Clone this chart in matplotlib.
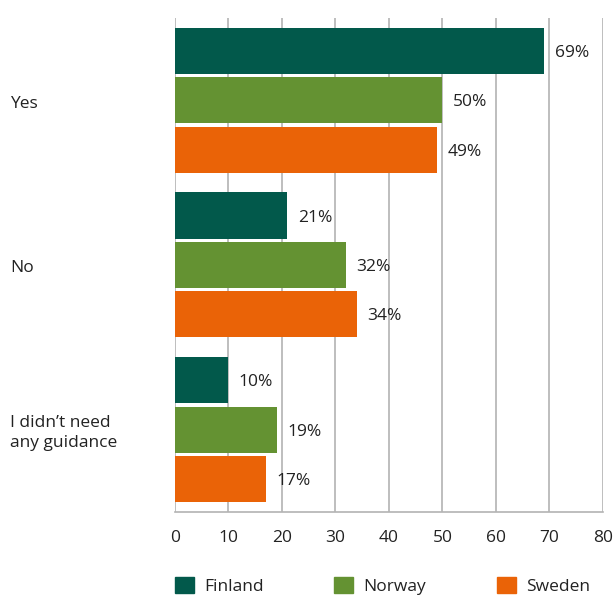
import matplotlib.pyplot as plt
from matplotlib.patches import Patch
import numpy as np

plt.rcParams['font.family'] = ['Open Sans', 'DejaVu Sans']

# answers and share of respondents (%) per country
categories = ['Yes', 'No', 'I didn\u2019t need\nany guidance']
countries = ['Finland', 'Norway', 'Sweden']
finland = [69, 21, 10]
norway = [50, 32, 19]
sweden = [49, 34, 17]
colors = ['#02594B', '#649232', '#EA6307']

fig = plt.figure(figsize=(6.14, 5.96), dpi=100)
ax = fig.add_axes([0.285, 0.141, 0.697, 0.829])

y = np.arange(len(categories))
offsets = [-0.3, 0, 0.3]
for vals, off, col in zip([finland, norway, sweden], offsets, colors):
    bars = ax.barh(y + off, vals, height=0.28, color=col, zorder=3)
    for b, v in zip(bars, vals):
        ax.annotate(f'{v}%', (b.get_width(), b.get_y() + b.get_height() / 2),
                    xytext=(7.5, -1.5), textcoords='offset points',
                    va='center', ha='left', fontsize=12.5, color='#222222')

ax.set_xlim(0, 80)
ax.set_ylim(2.5, -0.5)
ax.set_xticks(range(0, 81, 10))
ax.set_yticks([])
ax.grid(axis='x', color='#b3b3b3', linewidth=1.2, zorder=0)
for s in ['top', 'right', 'left']:
    ax.spines[s].set_visible(False)
ax.spines['bottom'].set_color('#b3b3b3')
ax.spines['bottom'].set_linewidth(1.2)
ax.tick_params(axis='x', length=0, pad=13, labelsize=12.5, colors='#222222')

# category labels at the far left
for yi, cat in zip(y, categories):
    ax.text(-0.386, yi + 0.02, cat, transform=ax.get_yaxis_transform(),
            ha='left', va='center', fontsize=12.5, color='#222222',
            linespacing=1.35)

handles = [Patch(color=c, label=n) for c, n in zip(colors, countries)]
fig.legend(handles=handles, loc='center left', bbox_to_anchor=(0.273, 0.017),
           ncol=3, frameon=False, fontsize=12.5, handlelength=1.1,
           handleheight=1.1, handletextpad=0.6, columnspacing=4.05,
           borderaxespad=0, labelcolor='#222222')

fig.savefig('out.png', dpi=100)
